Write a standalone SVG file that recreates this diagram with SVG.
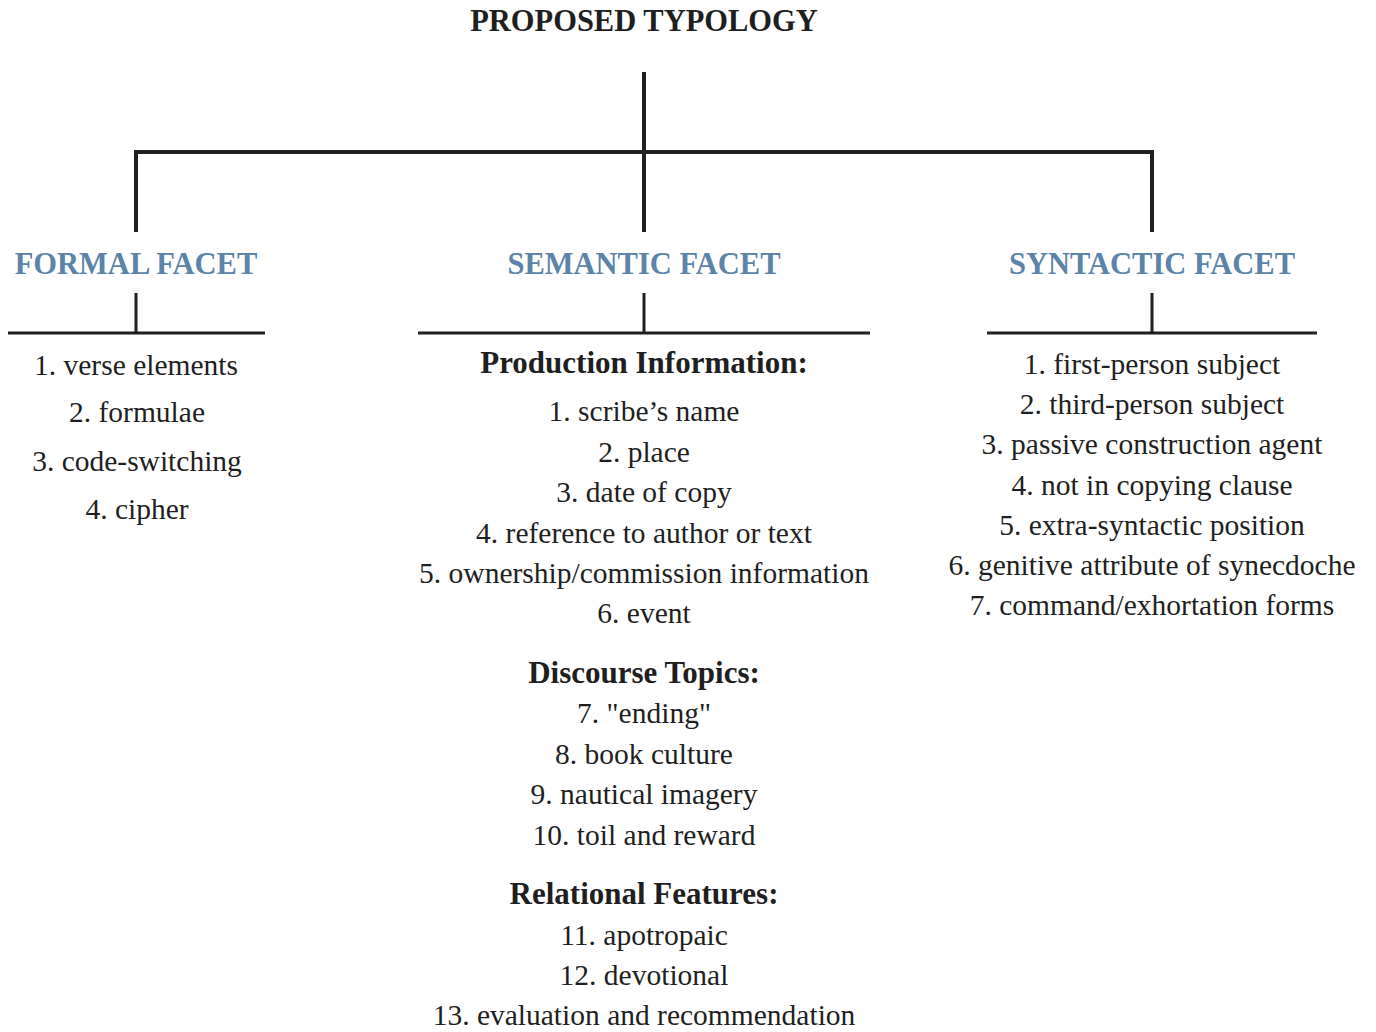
<svg xmlns="http://www.w3.org/2000/svg" width="1376" height="1032" viewBox="0 0 1376 1032">
<style>
text{font-family:"Liberation Serif","Times New Roman",serif;fill:#1f1f1f;text-anchor:middle}
.title{font-size:30.5px;font-weight:bold}
.facet{font-size:30.5px;font-weight:bold;fill:#5b84a8}
.item{font-size:29.5px}
.sub{font-size:31px;font-weight:bold}
.ln{stroke:#1f1f1f;fill:none}
.thick{stroke-width:4}
.thin{stroke-width:3}
</style>
<rect width="1376" height="1032" fill="#fff"/>
<g id="connectors">
<line class="ln thick" x1="644" y1="72" x2="644" y2="232"/>
<polyline class="ln thick" points="136,232 136,152 1152,152 1152,232"/>
<line class="ln thin" x1="136" y1="293" x2="136" y2="333"/>
<line class="ln thin" x1="8" y1="333" x2="265" y2="333"/>
<line class="ln thin" x1="644" y1="293" x2="644" y2="333"/>
<line class="ln thin" x1="418" y1="333" x2="870" y2="333"/>
<line class="ln thin" x1="1152" y1="293" x2="1152" y2="333"/>
<line class="ln thin" x1="987" y1="333" x2="1317" y2="333"/>
</g>
<g id="root"><text class="title" x="644" y="31">PROPOSED TYPOLOGY</text></g>
<g id="formal">
<text class="facet" x="136" y="274">FORMAL FACET</text>
<text class="item" x="136" y="375">1. verse elements</text>
<text class="item" x="137" y="422">2. formulae</text>
<text class="item" x="137" y="471">3. code-switching</text>
<text class="item" x="137" y="519">4. cipher</text>
</g>
<g id="semantic">
<text class="facet" x="644" y="274">SEMANTIC FACET</text>
<text class="sub" x="644" y="373">Production Information:</text>
<text class="item" x="644" y="421">1. scribe’s name</text>
<text class="item" x="644" y="462">2. place</text>
<text class="item" x="644" y="502">3. date of copy</text>
<text class="item" x="644" y="543">4. reference to author or text</text>
<text class="item" x="644" y="583">5. ownership/commission information</text>
<text class="item" x="644" y="623">6. event</text>
<text class="sub" x="644" y="683">Discourse Topics:</text>
<text class="item" x="644" y="723">7. "ending"</text>
<text class="item" x="644" y="764">8. book culture</text>
<text class="item" x="644" y="804">9. nautical imagery</text>
<text class="item" x="644" y="845">10. toil and reward</text>
<text class="sub" x="644" y="904">Relational Features:</text>
<text class="item" x="644" y="945">11. apotropaic</text>
<text class="item" x="644" y="985">12. devotional</text>
<text class="item" x="644" y="1025">13. evaluation and recommendation</text>
</g>
<g id="syntactic">
<text class="facet" x="1152" y="274">SYNTACTIC FACET</text>
<text class="item" x="1152" y="374">1. first-person subject</text>
<text class="item" x="1152" y="414">2. third-person subject</text>
<text class="item" x="1152" y="454">3. passive construction agent</text>
<text class="item" x="1152" y="495">4. not in copying clause</text>
<text class="item" x="1152" y="535">5. extra-syntactic position</text>
<text class="item" x="1152" y="575">6. genitive attribute of synecdoche</text>
<text class="item" x="1152" y="615">7. command/exhortation forms</text>
</g>
</svg>
